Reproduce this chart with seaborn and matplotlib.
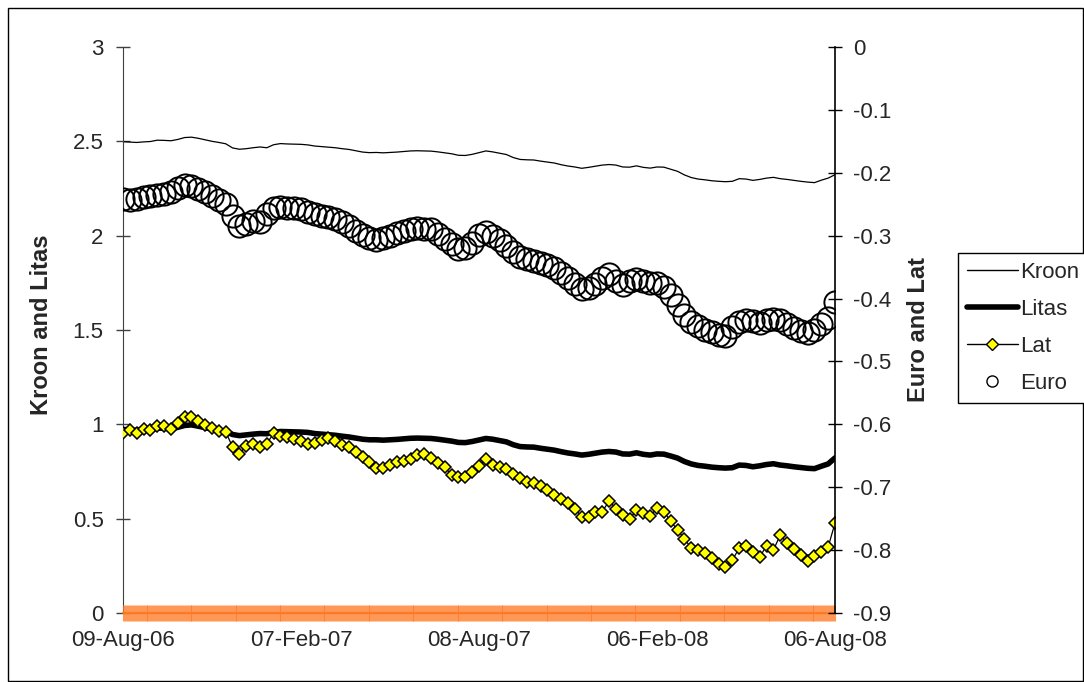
import pandas as pd
import matplotlib
matplotlib.use("Agg")
import matplotlib.pyplot as plt
import matplotlib.dates as mdates
from matplotlib.lines import Line2D
from matplotlib.patches import Rectangle
import seaborn as sns

# ---- data: weekly observations (Wednesdays) ----
weeks = pd.date_range("2006-08-09", "2008-08-06", freq="7D")
all_days = pd.date_range("2006-08-09", "2008-08-06", freq="D")

kroon = [2.498, 2.496, 2.494, 2.497, 2.499, 2.506, 2.505, 2.503, 2.510, 2.520,
         2.522, 2.516, 2.508, 2.500, 2.494, 2.487, 2.465, 2.458, 2.461, 2.466,
         2.470, 2.466, 2.482, 2.488, 2.486, 2.485, 2.484, 2.481, 2.475, 2.472,
         2.469, 2.466, 2.461, 2.457, 2.450, 2.443, 2.440, 2.441, 2.439, 2.441,
         2.443, 2.446, 2.449, 2.450, 2.449, 2.448, 2.444, 2.439, 2.434, 2.426,
         2.425, 2.431, 2.440, 2.449, 2.444, 2.437, 2.430, 2.414, 2.404, 2.402,
         2.401, 2.395, 2.390, 2.385, 2.376, 2.369, 2.364, 2.357, 2.362, 2.368,
         2.374, 2.377, 2.374, 2.364, 2.363, 2.370, 2.362, 2.358, 2.364, 2.363,
         2.352, 2.341, 2.322, 2.308, 2.300, 2.296, 2.291, 2.288, 2.286, 2.288,
         2.302, 2.300, 2.293, 2.298, 2.305, 2.309, 2.302, 2.298, 2.293, 2.288,
         2.284, 2.281, 2.294, 2.305, 2.323]

litas = [0.973, 0.970, 0.968, 0.972, 0.974, 0.980, 0.979, 0.977, 0.984, 0.994,
         0.997, 0.990, 0.982, 0.975, 0.969, 0.962, 0.946, 0.940, 0.944, 0.948,
         0.951, 0.950, 0.958, 0.962, 0.961, 0.960, 0.959, 0.957, 0.951, 0.948,
         0.945, 0.942, 0.937, 0.933, 0.927, 0.921, 0.918, 0.918, 0.916, 0.918,
         0.920, 0.923, 0.926, 0.927, 0.926, 0.925, 0.921, 0.916, 0.911, 0.904,
         0.903, 0.909, 0.917, 0.925, 0.921, 0.914, 0.907, 0.892, 0.882, 0.880,
         0.879, 0.873, 0.868, 0.863, 0.855, 0.848, 0.843, 0.837, 0.841, 0.847,
         0.853, 0.856, 0.853, 0.843, 0.842, 0.849, 0.841, 0.837, 0.843, 0.842,
         0.832, 0.821, 0.803, 0.790, 0.782, 0.778, 0.773, 0.770, 0.768, 0.770,
         0.784, 0.782, 0.775, 0.780, 0.787, 0.791, 0.784, 0.780, 0.775, 0.771,
         0.767, 0.765, 0.778, 0.790, 0.822]

euro = [-0.242, -0.243, -0.242, -0.239, -0.237, -0.235, -0.234, -0.231, -0.224, -0.219,
        -0.221, -0.226, -0.231, -0.237, -0.243, -0.250, -0.269, -0.285, -0.281, -0.276,
        -0.278, -0.266, -0.256, -0.254, -0.256, -0.256, -0.258, -0.262, -0.266, -0.269,
        -0.270, -0.273, -0.278, -0.285, -0.293, -0.299, -0.304, -0.307, -0.304, -0.301,
        -0.296, -0.293, -0.289, -0.288, -0.289, -0.289, -0.297, -0.305, -0.313, -0.321,
        -0.319, -0.312, -0.299, -0.294, -0.301, -0.307, -0.316, -0.326, -0.334, -0.337,
        -0.340, -0.343, -0.347, -0.351, -0.359, -0.367, -0.377, -0.385, -0.383, -0.377,
        -0.367, -0.361, -0.372, -0.378, -0.372, -0.369, -0.372, -0.375, -0.375, -0.382,
        -0.394, -0.410, -0.426, -0.437, -0.444, -0.450, -0.453, -0.458, -0.460, -0.445,
        -0.437, -0.434, -0.436, -0.439, -0.434, -0.433, -0.434, -0.440, -0.447, -0.452,
        -0.455, -0.450, -0.440, -0.431, -0.405]

lat = [-0.614, -0.609, -0.614, -0.607, -0.609, -0.603, -0.603, -0.607, -0.598, -0.588,
       -0.588, -0.595, -0.601, -0.606, -0.611, -0.612, -0.636, -0.647, -0.634, -0.631,
       -0.636, -0.631, -0.614, -0.619, -0.620, -0.623, -0.626, -0.631, -0.630, -0.625,
       -0.622, -0.626, -0.633, -0.636, -0.644, -0.652, -0.660, -0.669, -0.669, -0.665,
       -0.660, -0.658, -0.655, -0.649, -0.647, -0.654, -0.661, -0.668, -0.681, -0.684,
       -0.684, -0.676, -0.666, -0.655, -0.665, -0.668, -0.671, -0.679, -0.685, -0.692,
       -0.693, -0.698, -0.704, -0.712, -0.719, -0.725, -0.734, -0.747, -0.747, -0.739,
       -0.739, -0.722, -0.734, -0.744, -0.751, -0.736, -0.741, -0.746, -0.733, -0.739,
       -0.754, -0.768, -0.782, -0.797, -0.800, -0.805, -0.813, -0.822, -0.827, -0.816,
       -0.797, -0.793, -0.803, -0.811, -0.793, -0.800, -0.776, -0.789, -0.798, -0.808,
       -0.817, -0.809, -0.803, -0.795, -0.757]

baseline = [0.0] * len(all_days)

tick_dates = pd.to_datetime(["2006-08-09", "2007-02-07", "2007-08-08",
                             "2008-02-06", "2008-08-06"])
left_ticks = [0, 0.5, 1, 1.5, 2, 2.5, 3]
left_labels = ["0", "0.5", "1", "1.5", "2", "2.5", "3"]
right_ticks = [-0.9, -0.8, -0.7, -0.6, -0.5, -0.4, -0.3, -0.2, -0.1, 0]
right_labels = ["-0.9", "-0.8", "-0.7", "-0.6", "-0.5", "-0.4", "-0.3",
                "-0.2", "-0.1", "0"]

# ---- style ----
sns.set_style("white")
plt.rcParams["font.family"] = ["Liberation Sans", "DejaVu Sans"]

fig = plt.figure(figsize=(10.84, 6.82), dpi=100)
ax = fig.add_axes([0.1135, 0.1012, 0.6568, 0.8299])
ax2 = ax.twinx()

# primary axis: Kroon and Litas
sns.lineplot(x=weeks, y=kroon, ax=ax, color="black", linewidth=0.9,
             estimator=None, legend=False)
sns.lineplot(x=weeks, y=litas, ax=ax, color="black", linewidth=4.0,
             estimator=None, legend=False)

# secondary axis: Lat and Euro
sns.lineplot(x=weeks, y=lat, ax=ax2, color="black", linewidth=0.9,
             marker="D", markersize=5.8, markerfacecolor="#FFFF00",
             markeredgecolor="black", markeredgewidth=1.1,
             estimator=None, legend=False)
sns.lineplot(x=weeks, y=euro, ax=ax2, color="black", linestyle="none",
             marker="o", markersize=16, markerfacecolor="none",
             markeredgecolor="black", markeredgewidth=1.4,
             estimator=None, legend=False)

# zero baseline series along the category axis
sns.lineplot(x=all_days, y=baseline, ax=ax,
             color="#FF6A00", linewidth=1.6, marker="|", markersize=11,
             markeredgecolor="#FF7A26", markeredgewidth=0.7, alpha=0.8,
             estimator=None, legend=False, clip_on=False, zorder=5)

# ---- axes ----
ax.set_xlim(weeks[0], weeks[-1])
ax.set_ylim(0, 3)
ax2.set_ylim(-0.9, 0)

ax.set_xticks(tick_dates)
ax.xaxis.set_major_formatter(mdates.DateFormatter("%d-%b-%y"))
ax.set_yticks(left_ticks)
ax.set_yticklabels(left_labels)
ax2.set_yticks(right_ticks)
ax2.set_yticklabels(right_labels)

ax.tick_params(axis="x", length=0, labelsize=16, pad=12)
ax.tick_params(axis="y", direction="inout", length=10, width=1,
               color="#404040", labelsize=16, pad=9, left=True)
ax2.tick_params(axis="y", direction="inout", length=10, width=1,
                color="black", labelsize=16, pad=8, right=True)

for side in ["top", "right"]:
    ax.spines[side].set_visible(False)
ax.spines["left"].set_color("#404040")
ax.spines["bottom"].set_color("#808080")
for side in ["top", "left", "bottom"]:
    ax2.spines[side].set_visible(False)
ax2.spines["right"].set_color("black")
ax2.spines["right"].set_linewidth(1.2)
ax.grid(False)
ax2.grid(False)

ax.set_xlabel("")
ax.set_ylabel("Kroon and Litas", fontsize=17, fontweight="bold")
ax.yaxis.set_label_coords(-0.098, 0.51)
ax2.set_ylabel("Euro and Lat", fontsize=17, fontweight="bold")
ax2.yaxis.set_label_coords(1.101, 0.50)

# ---- legend ----
handles = [
    Line2D([], [], color="black", linewidth=1.0, label="Kroon"),
    Line2D([], [], color="black", linewidth=4.0, label="Litas"),
    Line2D([], [], color="black", linewidth=1.0, marker="D", markersize=6,
           markerfacecolor="#FFFF00", markeredgecolor="black", label="Lat"),
    Line2D([], [], linestyle="none", marker="o", markersize=8,
           markerfacecolor="none", markeredgecolor="black", label="Euro"),
]
leg = fig.legend(handles=handles, loc="upper left",
                 bbox_to_anchor=(0.8838, 0.629), frameon=True, fancybox=False,
                 edgecolor="black", framealpha=1, fontsize=16,
                 handlelength=2.3, handletextpad=0.1, labelspacing=0.72,
                 borderpad=0.4, borderaxespad=0)
leg.get_frame().set_linewidth(1.0)

# outer chart frame
fig.patches.append(Rectangle((8 / 1084, 1 / 682), 1075 / 1084, 673 / 682,
                             transform=fig.transFigure, fill=False,
                             edgecolor="black", linewidth=1.0))

fig.savefig("out.png", dpi=100)
